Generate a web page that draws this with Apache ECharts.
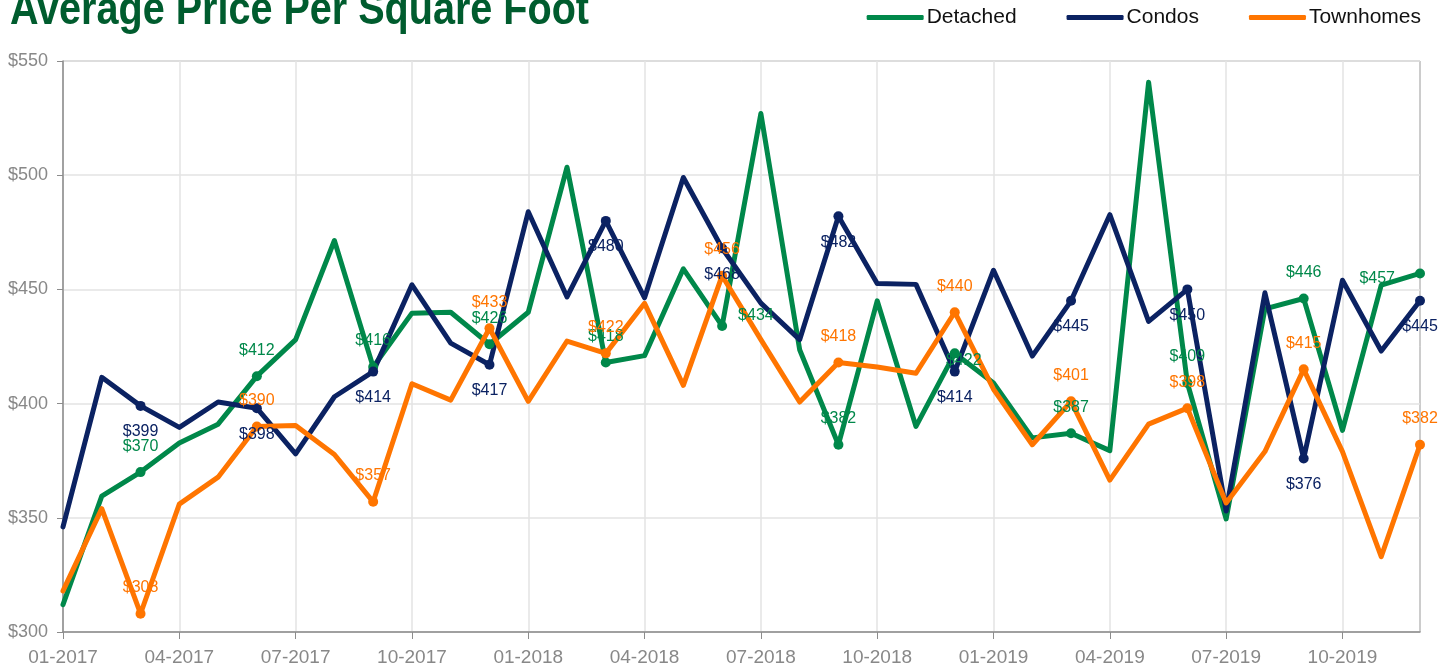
<!DOCTYPE html>
<html>
<head>
<meta charset="utf-8">
<script src="https://cdn.jsdelivr.net/npm/echarts@6/dist/echarts.min.js"></script>
<style>
html,body{margin:0;padding:0;background:#fff;}
#chart{width:1450px;height:667px;}
</style>
</head>
<body>
<div id="chart"></div>
<script>
const categories = [
  "01-2017","02-2017","03-2017","04-2017","05-2017","06-2017","07-2017","08-2017","09-2017","10-2017","11-2017","12-2017",
  "01-2018","02-2018","03-2018","04-2018","05-2018","06-2018","07-2018","08-2018","09-2018","10-2018","11-2018","12-2018",
  "01-2019","02-2019","03-2019","04-2019","05-2019","06-2019","07-2019","08-2019","09-2019","10-2019","11-2019","12-2019"
];
const detached = [312, 359.5, 370, 382.7, 391, 412, 428, 471.4, 416, 439.6, 440, 426,
                  440, 503.5, 418, 421, 459, 434, 527, 423.6, 382, 445, 390, 422,
                  409, 385, 387, 379.4, 540.7, 409, 349.5, 441.5, 446, 388.3, 451.9, 457];
const condos = [346, 411.5, 399, 389.6, 400.7, 398, 378, 403, 414, 452, 426.5, 417,
                484, 446.7, 480, 446.3, 499, 468, 444, 428, 482, 452.6, 452.2, 414,
                458.4, 420.8, 445, 482.7, 436, 450, 353, 448.5, 376, 454, 423, 445];
const townhomes = [318, 354, 308, 356, 367.8, 390, 390.4, 377.7, 357, 408.7, 401.5, 433,
                   401, 427.4, 422, 443.9, 408, 456, 428, 400.7, 418, 416, 413.3, 440,
                   406.3, 382, 401, 366.5, 391, 398, 356.5, 379, 415, 379, 333, 382];
const yTicks = [300, 350, 400, 450, 500, 550];
const titleText = 'Average Price Per Square Foot';

const colors = { Detached: '#00884a', Condos: '#0b2262', Townhomes: '#ff7500' };
const defaultPos = { Detached: 'top', Condos: 'bottom', Townhomes: 'top' };
const labelOverrides = {
  Detached: {
    17: { position: 'right', distance: 11, offset: [0, -10] },
    23: { position: 'inside', offset: [9, 7] },
    35: { position: 'left', distance: 20, offset: [0, 5] }
  },
  Condos: {},
  Townhomes: {}
};

function buildData(name, values) {
  return values.map((v, i) => {
    if (i % 3 === 2) {
      const ov = labelOverrides[name][i] || {};
      return {
        value: v,
        symbol: 'circle',
        symbolSize: 10,
        label: Object.assign({
          show: true,
          position: defaultPos[name],
          distance: 13,
          formatter: '$' + Math.round(v)
        }, ov)
      };
    }
    return { value: v, symbol: 'none' };
  });
}

function makeSeries(name, values) {
  return {
    name: name,
    type: 'line',
    data: buildData(name, values),
    showAllSymbol: true,
    lineStyle: { width: 5, color: colors[name], cap: 'round', join: 'round' },
    itemStyle: { color: colors[name] },
    label: {
      color: colors[name],
      fontFamily: 'Liberation Sans, Arial, sans-serif',
      fontSize: 16
    },
    emphasis: { disabled: true },
    z: 3
  };
}

const chart = echarts.init(document.getElementById('chart'), null, { renderer: 'canvas' });
chart.setOption({
  animation: false,
  backgroundColor: '#ffffff',
  graphic: [{
    type: 'text',
    x: 10,
    y: 11,
    scaleX: 0.86,
    scaleY: 1,
    originX: 0,
    originY: 0,
    z: 10,
    style: {
      text: titleText,
      font: 'bold 46px "Liberation Sans", Arial, sans-serif',
      fill: '#005c2e',
      verticalAlign: 'middle',
      align: 'left'
    }
  }],
  legend: {
    right: 24,
    top: 2,
    icon: 'roundRect',
    itemWidth: 57,
    itemHeight: 5,
    itemGap: 50,
    textStyle: {
      fontFamily: 'Liberation Sans, Arial, sans-serif',
      fontSize: 21,
      color: '#111111',
      padding: [0, 0, 0, -2]
    },
    data: ['Detached', 'Condos', 'Townhomes']
  },
  grid: {
    left: 63, right: 30, top: 61, bottom: 33,
    show: true,
    borderColor: '#999999',
    borderWidth: 1
  },
  xAxis: {
    type: 'category',
    data: categories,
    boundaryGap: false,
    axisLine: { lineStyle: { color: '#8c8c8c', width: 1.5 } },
    axisTick: { show: true, interval: 2, length: 7, lineStyle: { color: '#8c8c8c' } },
    axisLabel: {
      interval: 2,
      margin: 16,
      color: '#888888',
      fontFamily: 'Liberation Sans, Arial, sans-serif',
      fontSize: 19
    },
    splitLine: { show: true, interval: 2, lineStyle: { color: '#e3e3e3', width: 1.5 } }
  },
  yAxis: {
    type: 'value',
    min: yTicks[0],
    max: yTicks[yTicks.length - 1],
    interval: 50,
    axisLine: { show: true, lineStyle: { color: '#8c8c8c', width: 1.5 } },
    axisTick: { show: true, length: 6, lineStyle: { color: '#8c8c8c' } },
    axisLabel: {
      margin: 15,
      color: '#888888',
      fontFamily: 'Liberation Sans, Arial, sans-serif',
      fontSize: 18,
      formatter: v => '$' + v
    },
    splitLine: { show: true, lineStyle: { color: '#e3e3e3', width: 1.5 } }
  },
  series: [
    makeSeries('Detached', detached),
    makeSeries('Condos', condos),
    makeSeries('Townhomes', townhomes)
  ]
});
</script>
</body>
</html>
